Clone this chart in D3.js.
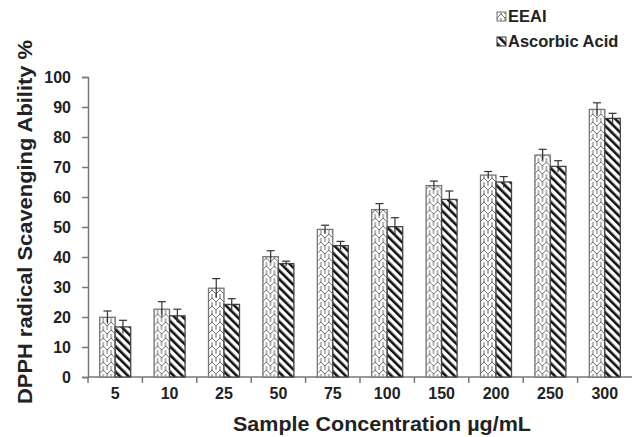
<!DOCTYPE html>
<html>
<head>
<meta charset="utf-8">
<script src="https://cdn.jsdelivr.net/npm/d3@7"></script>
<style>
  body { margin: 0; background: #fff; }
  svg text { font-family: "Liberation Sans", Arial, sans-serif; font-weight: bold; fill: #222; }
</style>
</head>
<body>
<div id="chart"></div>
<script>
// données
const concentrations = ["5", "10", "25", "50", "75", "100", "150", "200", "250", "300"];
const eeai = [19.9, 22.6, 29.6, 40.1, 49.2, 55.8, 63.8, 67.3, 74.0, 89.2];
const eeaiErr = [2.1, 2.5, 3.2, 2.0, 1.4, 2.0, 1.5, 1.2, 1.9, 2.2];
const ascorbic = [16.7, 20.4, 24.2, 37.8, 43.8, 50.1, 59.2, 65.0, 70.2, 86.2];
const ascorbicErr = [2.2, 2.2, 1.9, 0.8, 1.4, 3.0, 2.8, 1.8, 1.9, 1.7];
const yTicks = [0, 10, 20, 30, 40, 50, 60, 70, 80, 90, 100];
const seriesNames = ["EEAI", "Ascorbic Acid"];

const W = 632, H = 437;
const margin = { top: 77, right: 0, bottom: 60, left: 88 };

const svg = d3.select("#chart").append("svg")
  .attr("width", W).attr("height", H);

// motifs de remplissage
const defs = svg.append("defs");
const pEeai = defs.append("pattern")
  .attr("id", "pat-eeai")
  .attr("patternUnits", "userSpaceOnUse")
  .attr("width", 8).attr("height", 8);
pEeai.append("rect").attr("width", 8).attr("height", 8).attr("fill", "#fff");
pEeai.append("path")
  .attr("d", "M0,6 L4,2 L8,6 M4,2 L4,-2 M0,-2 L0,2 M8,-2 L8,2 M0,14 L4,10 L8,14 M4,10 L4,6 M0,6 L0,10 M8,6 L8,10")
  .attr("fill", "none").attr("stroke", "#6a6a6a").attr("stroke-width", 1);

const pAsc = defs.append("pattern")
  .attr("id", "pat-asc")
  .attr("patternUnits", "userSpaceOnUse")
  .attr("width", 6).attr("height", 6)
  .attr("patternTransform", "rotate(-45)");
pAsc.append("rect").attr("width", 6).attr("height", 6).attr("fill", "#fff");
pAsc.append("rect").attr("x", 0).attr("y", 0).attr("width", 2.6).attr("height", 6).attr("fill", "#111");

const x = d3.scaleBand()
  .domain(concentrations)
  .range([margin.left, W - margin.right]);

const y = d3.scaleLinear()
  .domain([0, 100])
  .range([H - margin.bottom, margin.top]);

const barW = 15.5;

// axes
const yAxis = svg.append("g")
  .attr("transform", `translate(${margin.left},0)`)
  .call(d3.axisLeft(y).tickValues(yTicks).tickSize(6).tickPadding(11).tickFormat(d3.format("d")));
yAxis.selectAll("text").style("font-size", "16px");

const xAxis = svg.append("g")
  .attr("transform", `translate(0,${y(0)})`)
  .call(d3.axisBottom(x).tickSize(0).tickPadding(11));
xAxis.selectAll("text").style("font-size", "16px");

// graduations entre les groupes
xAxis.selectAll(".sep")
  .data(concentrations)
  .enter().append("line")
  .attr("class", "sep")
  .attr("x1", (d) => x(d)).attr("x2", (d) => x(d))
  .attr("y1", 0).attr("y2", 6)
  .attr("stroke", "#777").attr("stroke-width", 1.5);

svg.selectAll(".domain, .tick line").attr("stroke", "#777").attr("stroke-width", 1.5);
xAxis.select(".domain").attr("d", `M${margin.left},0H${W}`);

// barres
const groups = svg.append("g").selectAll("g")
  .data(concentrations)
  .enter().append("g")
  .attr("transform", (d) => `translate(${x(d) + x.bandwidth() / 2},0)`);

const drawSeries = (vals, errs, offset, fill, stroke) => {
  groups.append("rect")
    .attr("x", offset)
    .attr("y", (d, i) => y(vals[i]))
    .attr("width", barW)
    .attr("height", (d, i) => y(0) - y(vals[i]))
    .attr("fill", fill)
    .attr("stroke", stroke)
    .attr("stroke-width", 1.3);

  const cx = offset + barW / 2;
  groups.append("line")
    .attr("x1", cx).attr("x2", cx)
    .attr("y1", (d, i) => y(vals[i] + errs[i]))
    .attr("y2", (d, i) => y(vals[i] - errs[i]))
    .attr("stroke", "#333").attr("stroke-width", 1.2);
  groups.append("line")
    .attr("x1", cx - 4).attr("x2", cx + 4)
    .attr("y1", (d, i) => y(vals[i] + errs[i]))
    .attr("y2", (d, i) => y(vals[i] + errs[i]))
    .attr("stroke", "#333").attr("stroke-width", 1.2);
};

drawSeries(eeai, eeaiErr, -barW, "url(#pat-eeai)", "#777");
drawSeries(ascorbic, ascorbicErr, 0, "url(#pat-asc)", "#444");

// titres des axes
svg.append("text")
  .attr("x", 382).attr("y", 431)
  .attr("text-anchor", "middle")
  .attr("textLength", 298)
  .attr("lengthAdjust", "spacingAndGlyphs")
  .style("font-size", "19.5px")
  .text("Sample Concentration µg/mL");

svg.append("text")
  .attr("transform", "translate(32,222) rotate(-90)")
  .attr("text-anchor", "middle")
  .attr("textLength", 364)
  .attr("lengthAdjust", "spacingAndGlyphs")
  .style("font-size", "19.5px")
  .text("DPPH radical Scavenging Ability %");

// légende
const legend = svg.append("g").attr("transform", "translate(497,12)");
const legFills = ["url(#pat-eeai)", "url(#pat-asc)"];
seriesNames.forEach((name, i) => {
  const row = legend.append("g").attr("transform", `translate(0,${i * 25})`);
  row.append("rect")
    .attr("width", 9).attr("height", 9)
    .attr("fill", legFills[i])
    .attr("stroke", i === 0 ? "#777" : "#333").attr("stroke-width", 1);
  row.append("text")
    .attr("x", 11).attr("y", 10)
    .style("font-size", "16.5px")
    .text(name);
});
</script>
</body>
</html>
